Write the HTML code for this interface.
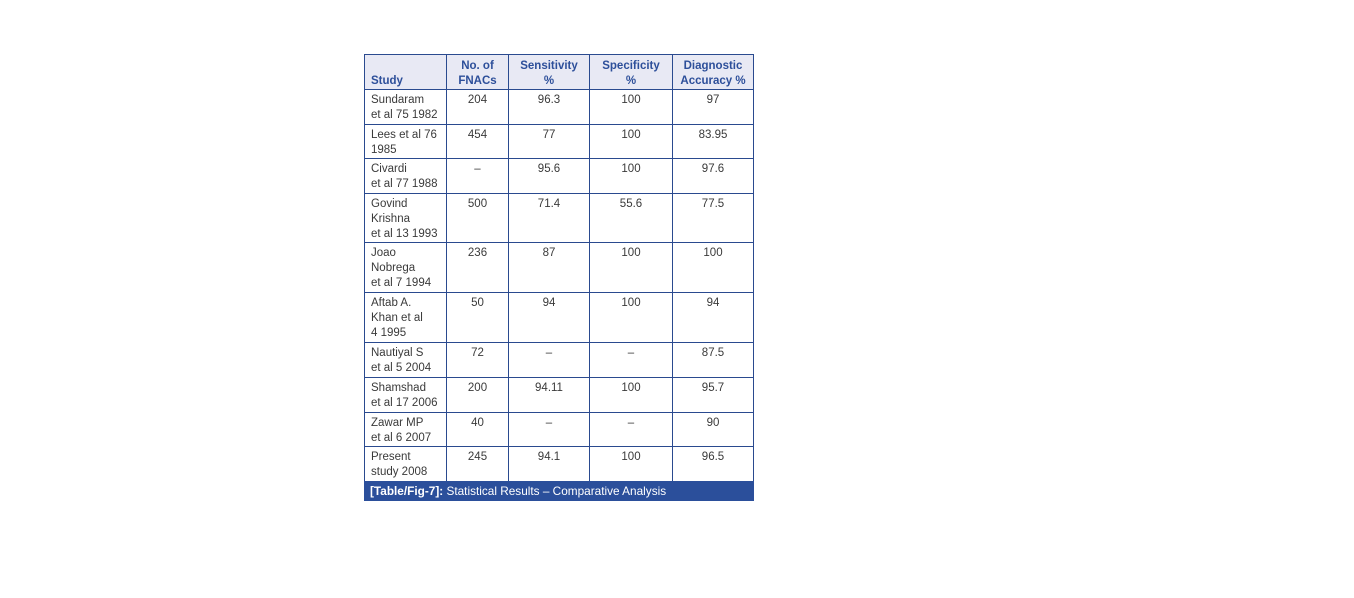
<!DOCTYPE html>
<html><head><style>
body{margin:0;width:1354px;height:598px;background:#fff;position:relative;font-family:"Liberation Sans",Arial,sans-serif;}
table{position:absolute;left:364px;top:54px;border-collapse:collapse;table-layout:fixed;font-size:11.5px;color:#3a3a3a;}
td,th{border:1px solid #2a4a8f;vertical-align:top;padding:3px 6px 0 6px;line-height:15px;text-align:center;}
td:first-child,th:first-child{text-align:left;}
th{background:#e8e9f4;color:#2d4f9a;font-weight:bold;vertical-align:bottom;padding-bottom:0;padding-top:0;}
.cap{position:absolute;left:364px;top:481px;width:390px;height:20px;background:#2b4f9b;color:#fff;font-size:11.8px;line-height:21px;box-sizing:border-box;padding-left:6px;}
</style></head><body>
<table>
<colgroup><col style="width:82px"><col style="width:62px"><col style="width:81px"><col style="width:83px"><col style="width:81px"></colgroup>
<tr style="height:35px"><th>Study</th><th>No. of<br>FNACs</th><th>Sensitivity<br>%</th><th>Specificity<br>%</th><th>Diagnostic<br>Accuracy %</th></tr>
<tr style="height:35px"><td>Sundaram<br>et al 75 1982</td><td>204</td><td>96.3</td><td>100</td><td>97</td></tr>
<tr style="height:34px"><td>Lees et al 76<br>1985</td><td>454</td><td>77</td><td>100</td><td>83.95</td></tr>
<tr style="height:35px"><td>Civardi<br>et al 77 1988</td><td>–</td><td>95.6</td><td>100</td><td>97.6</td></tr>
<tr style="height:49px"><td>Govind<br>Krishna<br>et al 13 1993</td><td>500</td><td>71.4</td><td>55.6</td><td>77.5</td></tr>
<tr style="height:50px"><td>Joao<br>Nobrega<br>et al 7 1994</td><td>236</td><td>87</td><td>100</td><td>100</td></tr>
<tr style="height:50px"><td>Aftab A.<br>Khan et al<br>4 1995</td><td>50</td><td>94</td><td>100</td><td>94</td></tr>
<tr style="height:35px"><td>Nautiyal S<br>et al 5 2004</td><td>72</td><td>–</td><td>–</td><td>87.5</td></tr>
<tr style="height:35px"><td>Shamshad<br>et al 17 2006</td><td>200</td><td>94.11</td><td>100</td><td>95.7</td></tr>
<tr style="height:34px"><td>Zawar MP<br>et al 6 2007</td><td>40</td><td>–</td><td>–</td><td>90</td></tr>
<tr style="height:35px"><td>Present<br>study 2008</td><td>245</td><td>94.1</td><td>100</td><td>96.5</td></tr>
</table>
<div class="cap"><b>[Table/Fig-7]:</b> Statistical Results – Comparative Analysis</div>
</body></html>
